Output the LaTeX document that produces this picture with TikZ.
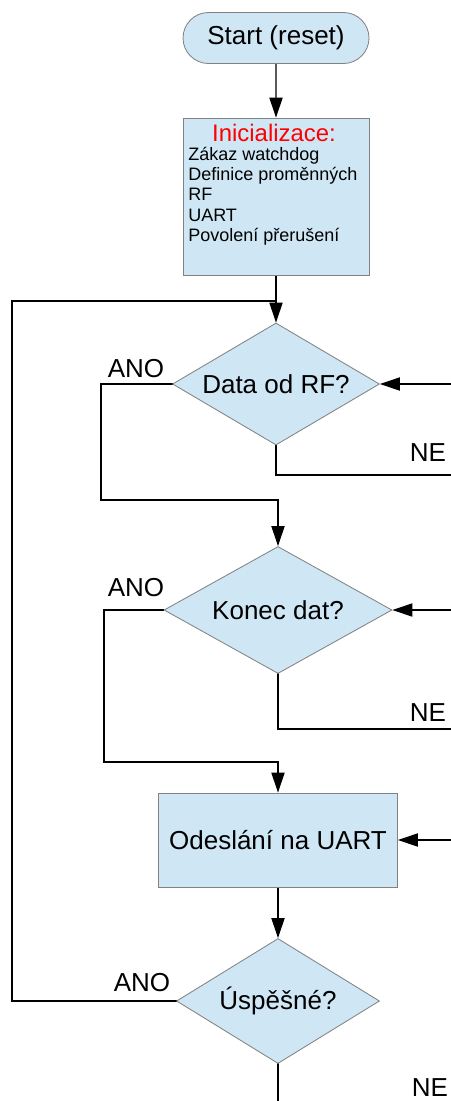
\documentclass[tikz,border=0pt]{standalone}
\usepackage{fontspec}
\setmainfont{Liberation Sans}
\usepackage{tikz}
\pgfdeclarelayer{nodelayer}
\pgfdeclarelayer{edgelayer}
\pgfsetlayers{edgelayer,nodelayer,main}
\usetikzlibrary{arrows.meta,shapes.geometric,shapes.misc}
\definecolor{boxfill}{RGB}{207,231,245}
\definecolor{boxline}{RGB}{130,130,130}
\tikzset{
	terminal/.style={rounded rectangle, draw=boxline, fill=boxfill, line width=0.6pt, inner sep=0pt, minimum width=4.65cm, minimum height=1.275cm, font=\fontsize{18.5}{22}\selectfont},
	process/.style={rectangle, draw=boxline, fill=boxfill, line width=0.6pt, inner sep=0pt, font=\fontsize{18.5}{22}\selectfont},
	decision/.style={diamond, draw=boxline, fill=boxfill, line width=0.6pt, inner sep=0pt, font=\fontsize{18.5}{22}\selectfont},
	answer/.style={inner sep=0pt, font=\fontsize{18.5}{22}\selectfont},
	flow/.style={line width=0.9pt, line cap=rect},
	flowarrow/.style={flow, -{Triangle[length=0.5cm,width=0.33cm]}}
}

\begin{document}
\begin{tikzpicture}
	\useasboundingbox (0, 0) rectangle (11.25, -27.525);
	\begin{pgfonlayer}{nodelayer}
		\node [terminal] (0) at (6.9, -0.95) {Start (reset)};
		\node [process, minimum width=4.65cm, minimum height=3.925cm] (1) at (6.9, -4.9125) {};
		\node [inner sep=0pt, text=red, font=\fontsize{17}{20}\selectfont] (2) at (6.85, -3.325) {Inicializace:};
		\node [inner sep=0pt, anchor=west, align=left, font=\fontsize{12.8}{14.4}\selectfont] (3) at (4.7, -4.9) {Zákaz watchdog\\Definice proměnných\\RF\\UART\\Povolení přerušení};
		\node [decision, aspect=1.7, minimum width=5.175cm, minimum height=3.05cm] (4) at (6.9, -9.6) {Data od RF?};
		\node [decision, aspect=1.8, minimum width=5.7cm, minimum height=3.175cm] (5) at (6.95, -15.25) {Konec dat?};
		\node [process, minimum width=5.975cm, minimum height=2.35cm] (6) at (6.95, -21) {Odeslání na UART};
		\node [decision, aspect=1.6, minimum width=5.075cm, minimum height=3.125cm] (7) at (6.95, -25.025) {Úspěšné?};
		\node [] (10) at (0.3, -7.525) {};
		\node [] (11) at (6.9, -7.525) {};
		\node [] (12) at (0.3, -25.025) {};
		\node [] (13) at (2.525, -9.6) {};
		\node [] (14) at (2.525, -12.5) {};
		\node [] (15) at (6.95, -12.5) {};
		\node [] (16) at (6.9, -11.875) {};
		\node [] (17) at (11.25, -11.875) {};
		\node [] (18) at (11.25, -9.6) {};
		\node [] (19) at (2.6, -15.25) {};
		\node [] (20) at (2.6, -19.05) {};
		\node [] (21) at (6.95, -19.05) {};
		\node [] (22) at (6.95, -18.225) {};
		\node [] (23) at (11.25, -18.225) {};
		\node [] (24) at (11.25, -15.25) {};
		\node [] (25) at (11.25, -21) {};
		\node [] (26) at (6.95, -27.525) {};
		\node [answer] (30) at (3.4, -9.225) {ANO};
		\node [answer] (31) at (10.7, -11.325) {NE};
		\node [answer] (32) at (3.4, -14.7) {ANO};
		\node [answer] (33) at (10.7, -17.825) {NE};
		\node [answer] (34) at (3.55, -24.575) {ANO};
		\node [answer] (35) at (10.75, -27.2) {NE};
	\end{pgfonlayer}
	\begin{pgfonlayer}{edgelayer}
		\draw [flowarrow] (0) to (1);
		\draw [flow] (1) to (11.center);
		\draw [flowarrow] (11.center) to (4);
		\draw [flow] (7) to (12.center);
		\draw [flow] (12.center) to (10.center);
		\draw [flow] (10.center) to (11.center);
		\draw [flow] (4) to (13.center);
		\draw [flow] (13.center) to (14.center);
		\draw [flow] (14.center) to (15.center);
		\draw [flowarrow] (15.center) to (5);
		\draw [flow] (4) to (16.center);
		\draw [flow] (16.center) to (17.center);
		\draw [flowarrow] (18.center) to (4);
		\draw [flow] (5) to (19.center);
		\draw [flow] (19.center) to (20.center);
		\draw [flow] (20.center) to (21.center);
		\draw [flowarrow] (21.center) to (6);
		\draw [flow] (5) to (22.center);
		\draw [flow] (22.center) to (23.center);
		\draw [flowarrow] (24.center) to (5);
		\draw [flowarrow] (25.center) to (6);
		\draw [flowarrow] (6) to (7);
		\draw [flow] (7) to (26.center);
	\end{pgfonlayer}
\end{tikzpicture}
\end{document}
